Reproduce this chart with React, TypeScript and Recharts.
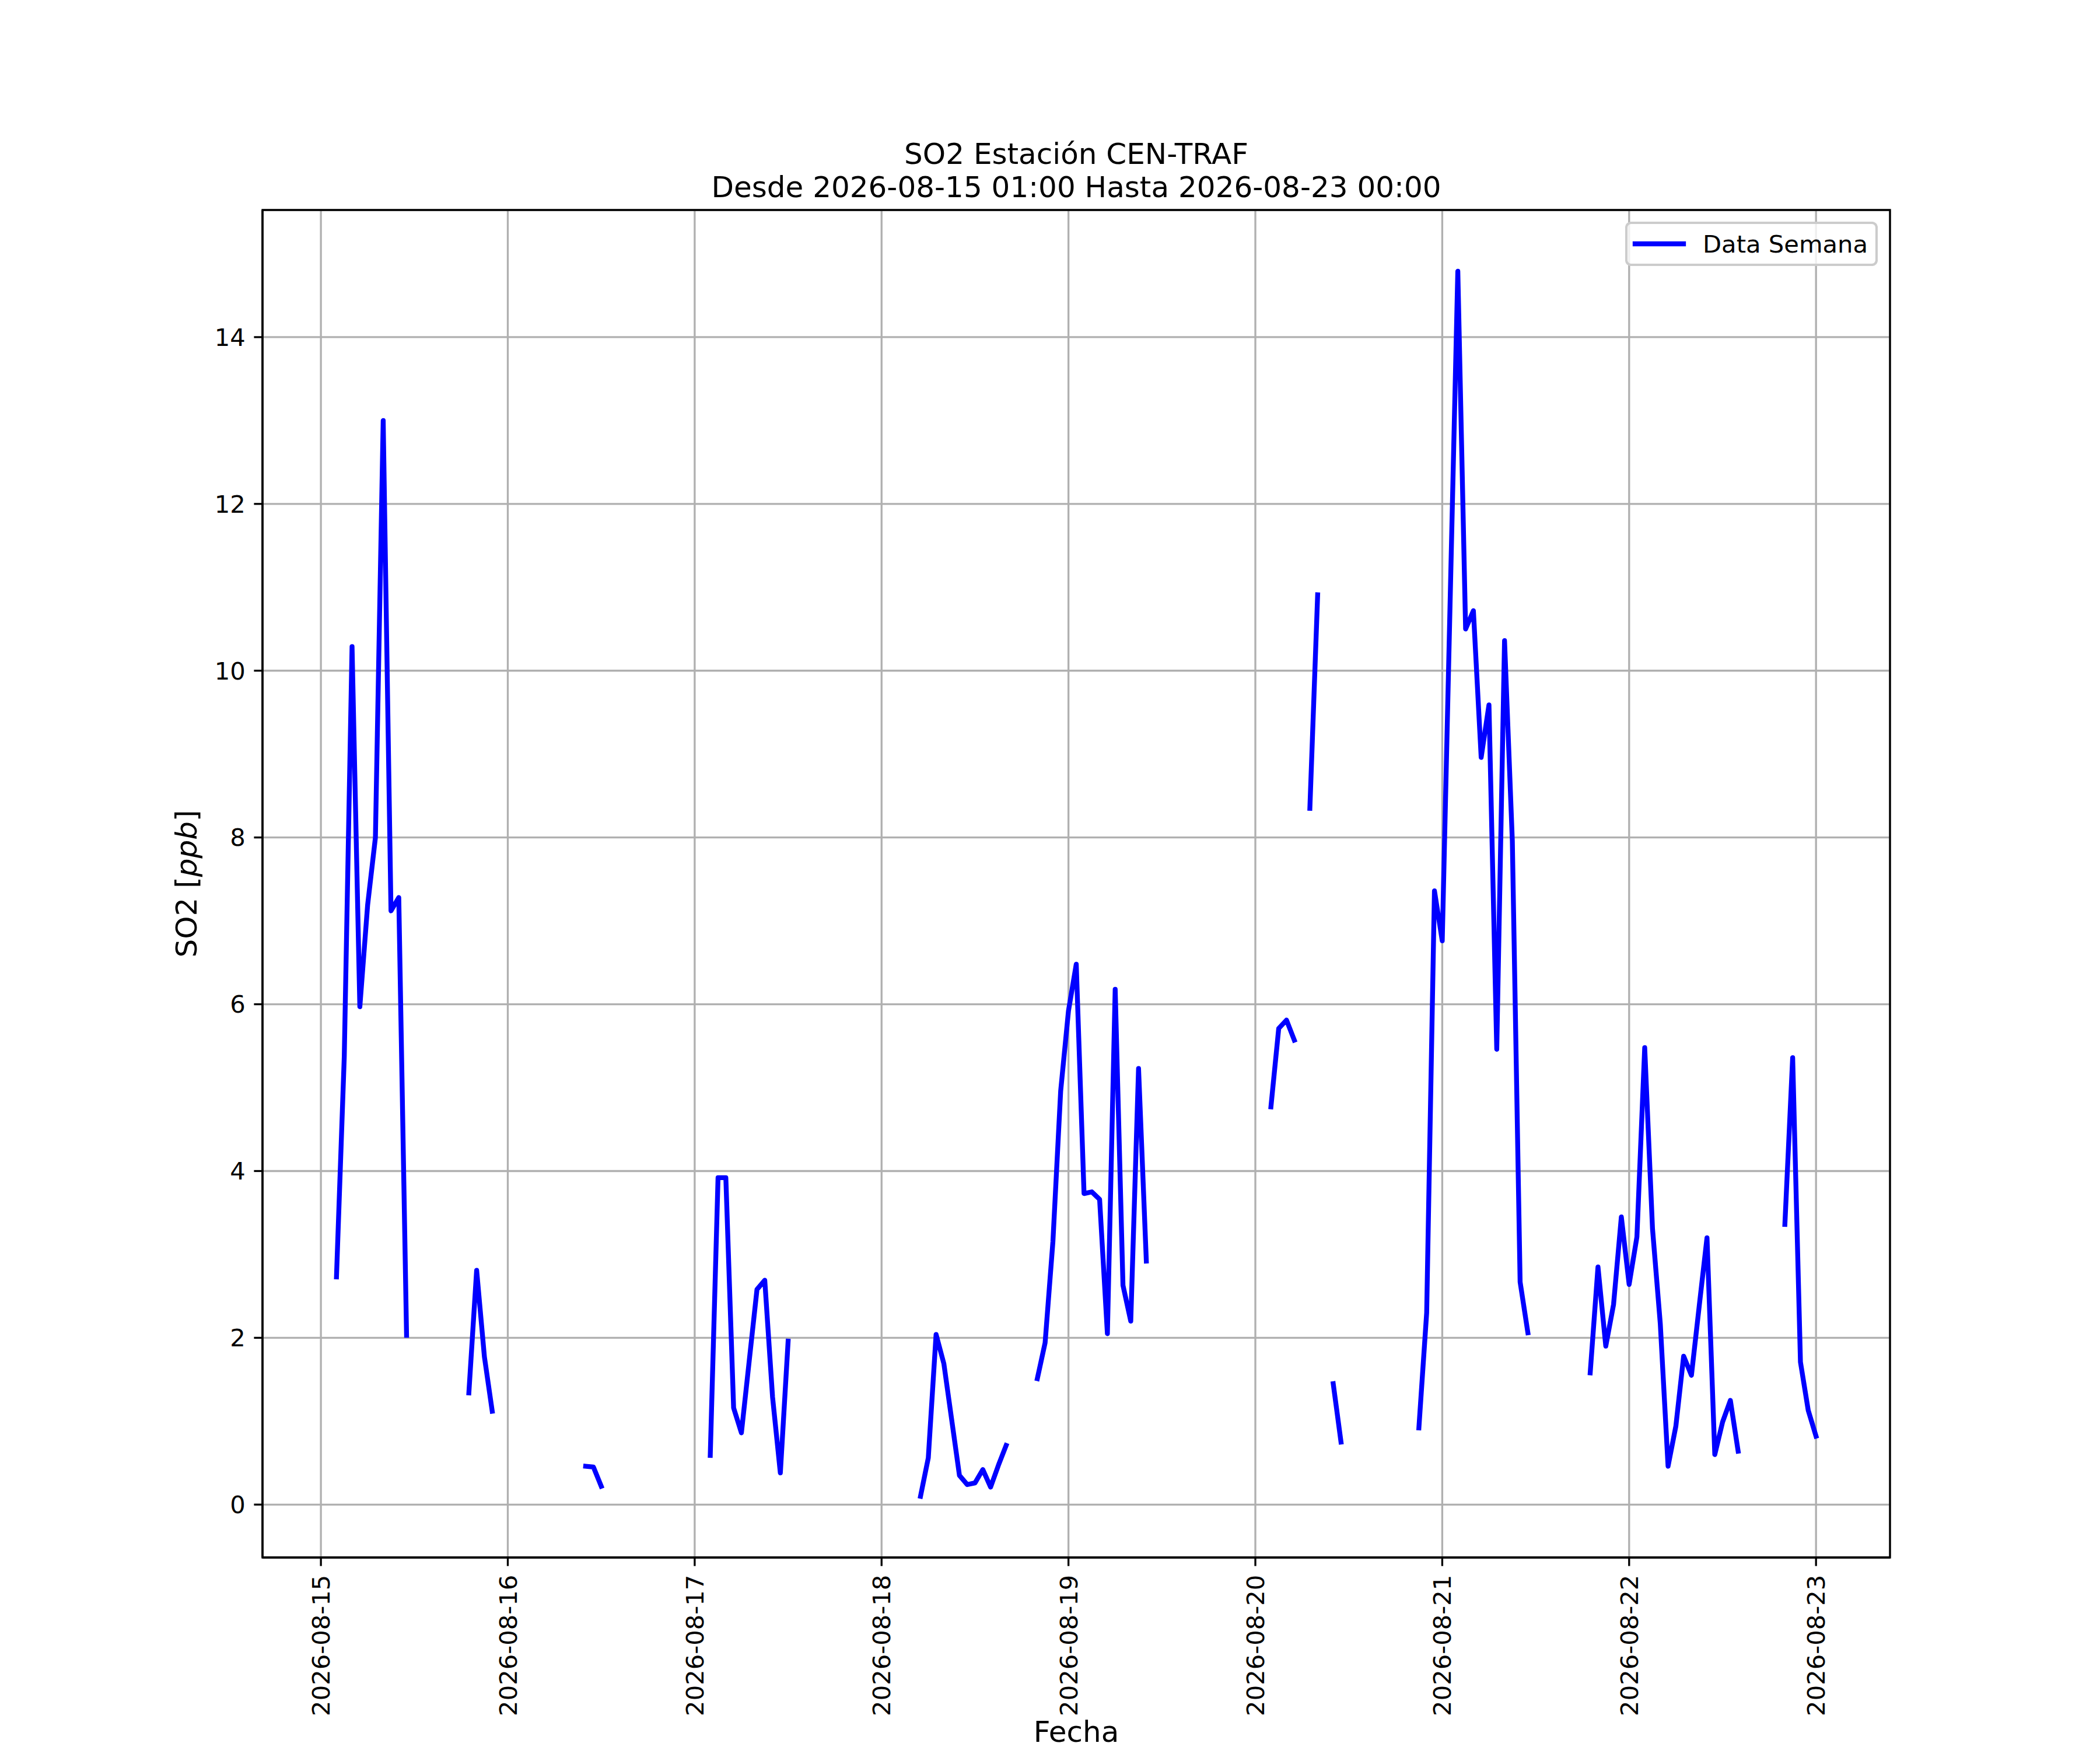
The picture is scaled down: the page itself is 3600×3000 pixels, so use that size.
import { LineChart, Line, XAxis, YAxis, CartesianGrid, Legend, ReferenceArea } from "recharts";

// hourly SO2 readings [ppb], index = hour of the day (00..23), null = no data
const days = ["2026-08-15", "2026-08-16", "2026-08-17", "2026-08-18", "2026-08-19", "2026-08-20", "2026-08-21", "2026-08-22", "2026-08-23"];

const so2Aug15 = [null, null, 2.73, 5.37, 10.29, 5.97, 7.19, 8.0, 13.0, 7.12, 7.28, 2.03, null, null, null, null, null, null, null, 1.34, 2.81, 1.77, 1.12, null];
const so2Aug16 = [null, null, null, null, null, null, null, null, null, null, 0.46, 0.45, 0.22, null, null, null, null, null, null, null, null, null, null, null];
const so2Aug17 = [null, null, 0.59, 3.92, 3.92, 1.16, 0.86, 1.72, 2.58, 2.69, 1.29, 0.38, 1.96, null, null, null, null, null, null, null, null, null, null, null];
const so2Aug18 = [null, null, null, null, null, 0.1, 0.56, 2.04, 1.69, 1.02, 0.35, 0.24, 0.26, 0.42, 0.21, 0.47, 0.71, null, null, null, 1.51, 1.94, 3.15, 4.96];
const so2Aug19 = [5.92, 6.48, 3.73, 3.75, 3.66, 2.05, 6.18, 2.63, 2.2, 5.23, 2.92, null, null, null, null, null, null, null, null, null, null, null, null, null];
const so2Aug20 = [null, null, 4.77, 5.71, 5.81, 5.57, null, 8.35, 10.91, null, 1.45, 0.75, null, null, null, null, null, null, null, null, null, 0.92, 2.3, 7.36];
const so2Aug21 = [6.76, 10.78, 14.79, 10.5, 10.72, 8.96, 9.59, 5.46, 10.36, 7.96, 2.67, 2.06, null, null, null, null, null, null, null, 1.58, 2.85, 1.9, 2.4, 3.45];
const so2Aug22 = [2.64, 3.21, 5.48, 3.31, 2.17, 0.46, 0.94, 1.78, 1.55, 2.38, 3.2, 0.6, 0.99, 1.25, 0.64, null, null, null, null, null, 3.36, 5.36, 1.71, 1.13];
const so2Aug23 = [0.82];

const yTicks = [0, 2, 4, 6, 8, 10, 12, 14];

const dailyValues = [so2Aug15, so2Aug16, so2Aug17, so2Aug18, so2Aug19, so2Aug20, so2Aug21, so2Aug22, so2Aug23];

const data = dailyValues.flatMap((vals, d) => vals.map((v, i) => ({ hour: d * 24 + i, so2: v })));
const xTicks = days.map((_, i) => i * 24);

// matplotlib-like 5% autoscale margins
const valid = data.filter((r) => r.so2 !== null);
const hMin = Math.min(...valid.map((r) => r.hour));
const hMax = Math.max(...valid.map((r) => r.hour));
const vMin = Math.min(...valid.map((r) => r.so2 as number));
const vMax = Math.max(...valid.map((r) => r.so2 as number));
const xDomain = [hMin - 0.05 * (hMax - hMin), hMax + 0.05 * (hMax - hMin)];
const yDomain = [vMin - 0.05 * (vMax - vMin), vMax + 0.05 * (vMax - vMin)];

const FONT = "DejaVu Sans";

const DateTick = (props: any) => {
  const { x, y, payload } = props;
  return (
    <text
      x={x}
      y={y}
      dy="0.36em"
      transform={`rotate(-90, ${x}, ${y})`}
      textAnchor="end"
      fontFamily={FONT}
      fontSize={41.7}
      fill="#000"
    >
      {days[Math.round(payload.value / 24)]}
    </text>
  );
};

const LegendBox = () => (
  <svg width={433} height={76} style={{ display: "block" }}>
    <rect x={2} y={2} width={429} height={72} rx={8} fill="#fff" fillOpacity={0.8} stroke="#cccccc" strokeWidth={4.17} />
    <line x1={17} x2={100} y1={38} y2={38} stroke="#0000ff" strokeWidth={8.33} strokeLinecap="square" />
    <text x={133} y={38} dy="0.36em" fontFamily={FONT} fontSize={41.7} fill="#000">
      Data Semana
    </text>
  </svg>
);

export default function App() {
  return (
    <div style={{ position: "absolute", left: 0, top: 0, width: 3600, height: 3000, background: "#fff" }}>
      <LineChart width={3600} height={3000} data={data} margin={{ top: 360, right: 360, bottom: 30, left: 350 }}>
        <CartesianGrid stroke="#b0b0b0" strokeWidth={3.33} />
        <XAxis
          dataKey="hour"
          type="number"
          domain={xDomain}
          ticks={xTicks}
          interval={0}
          height={300}
          tickSize={14.6}
          tickMargin={15}
          tick={<DateTick />}
          tickLine={{ stroke: "#000", strokeWidth: 3.33 }}
          axisLine={{ stroke: "#000", strokeWidth: 3.33 }}
        />
        <YAxis
          type="number"
          domain={yDomain}
          ticks={yTicks}
          interval={0}
          width={100}
          tickSize={14.6}
          tickMargin={14.6}
          tick={{ fontSize: 41.7, fill: "#000", fontFamily: FONT }}
          tickLine={{ stroke: "#000", strokeWidth: 3.33 }}
          axisLine={{ stroke: "#000", strokeWidth: 3.33 }}
        />
        <ReferenceArea
          x1={xDomain[0]}
          x2={xDomain[1]}
          y1={yDomain[0]}
          y2={yDomain[1]}
          fill="none"
          stroke="#000"
          strokeWidth={3.33}
          ifOverflow="visible"
        />
        <Line
          dataKey="so2"
          stroke="#0000ff"
          strokeWidth={8.33}
          strokeLinejoin="round"
          strokeLinecap="square"
          dot={false}
          activeDot={false}
          connectNulls={false}
          isAnimationActive={false}
        />
        <Legend
          layout="horizontal"
          verticalAlign="middle"
          align="center"
          content={LegendBox}
          wrapperStyle={{ position: "absolute", left: 2786, top: 380, width: 433, height: 76 }}
        />
      </LineChart>
      <svg width={3600} height={3000} style={{ position: "absolute", left: 0, top: 0, pointerEvents: "none" }}>
        <text x={1845} y={281} textAnchor="middle" fontFamily={FONT} fontSize={50} fill="#000">
          SO2 Estación CEN-TRAF
        </text>
        <text x={1845} y={338} textAnchor="middle" fontFamily={FONT} fontSize={50} fill="#000">
          Desde 2026-08-15 01:00 Hasta 2026-08-23 00:00
        </text>
        <text x={1845} y={2986} textAnchor="middle" fontFamily={FONT} fontSize={50} fill="#000">
          Fecha
        </text>
        <text x={337} y={1515} transform="rotate(-90, 337, 1515)" textAnchor="middle" fontFamily={FONT} fontSize={50} fill="#000">
          SO2 [<tspan fontStyle="italic">ppb</tspan>]
        </text>
      </svg>
    </div>
  );
}
